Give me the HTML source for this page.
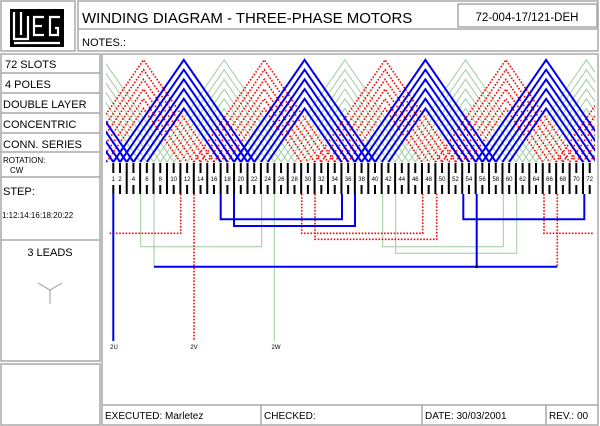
<!DOCTYPE html>
<html><head><meta charset="utf-8"><style>
html,body{margin:0;padding:0;background:#fff}
svg{display:block}
text{font-family:"Liberation Sans",Arial,sans-serif;fill:#000}
</style></head><body>
<svg width="600" height="426" viewBox="0 0 600 426" xmlns="http://www.w3.org/2000/svg">
<defs>
<clipPath id="cp"><rect x="106" y="55" width="489" height="110"/></clipPath>
<g id="coil" fill="none">
<polyline points="-36.9,162 0,108.5 36.9,162"/>
<polyline points="-43.6,162 0,98.8 43.6,162"/>
<polyline points="-50.3,162 0,89.1 50.3,162"/>
<polyline points="-57,162 0,79.4 57,162"/>
<polyline points="-63.7,162 0,69.7 63.7,162"/>
<polyline points="-70.5,162 0,59.9 70.5,162"/>
</g>
</defs>
<g fill="none" stroke="#a8a8a8" stroke-width="1.5">
<rect x="1" y="1" width="74" height="50"/>
<rect x="78" y="1" width="520" height="50"/>
<line x1="78" y1="29" x2="598" y2="29"/>
<rect x="458" y="4" width="139" height="23"/>
<rect x="1" y="54" width="99" height="307"/>
<line x1="1" y1="73" x2="100" y2="73"/>
<line x1="1" y1="93" x2="100" y2="93"/>
<line x1="1" y1="113" x2="100" y2="113"/>
<line x1="1" y1="133" x2="100" y2="133"/>
<line x1="1" y1="152" x2="100" y2="152"/>
<line x1="1" y1="177" x2="100" y2="177"/>
<line x1="1" y1="240" x2="100" y2="240"/>
<rect x="1" y="364" width="99" height="61"/>
<rect x="102" y="54" width="496" height="371"/>
<line x1="102" y1="405" x2="598" y2="405"/>
<line x1="261" y1="405" x2="261" y2="425"/>
<line x1="422" y1="405" x2="422" y2="425"/>
<line x1="546" y1="405" x2="546" y2="425"/>
</g>
<!-- logo -->
<rect x="10" y="9" width="54" height="38" fill="#000"/>
<g fill="none" stroke="#fff" stroke-width="2.2">
<polyline points="14,12 14,39 28,39 28,16"/>
<line x1="21" y1="12" x2="21" y2="35"/>
<polyline points="44,17 34,17 34,35 44,35"/>
<line x1="34" y1="26" x2="42" y2="26"/>
<polyline points="60,17 50,17 50,35 58,35 58,28 55,28"/>
<line x1="14" y1="43" x2="60" y2="43"/>
</g>
<text x="82" y="23" font-size="15">WINDING DIAGRAM - THREE-PHASE MOTORS</text>
<text x="527" y="21" font-size="11.5" text-anchor="middle">72-004-17/121-DEH</text>
<text x="82" y="46" font-size="11">NOTES.:</text>
<g font-size="11">
<text x="5" y="68">72 SLOTS</text>
<text x="5" y="88">4 POLES</text>
<text x="3" y="108">DOUBLE LAYER</text>
<text x="3" y="128">CONCENTRIC</text>
<text x="3" y="148">CONN. SERIES</text>
<text x="3" y="195">STEP:</text>
<text x="50" y="256" text-anchor="middle">3 LEADS</text>
</g>
<text x="3" y="163" font-size="8">ROTATION:</text>
<text x="10" y="173" font-size="8">CW</text>
<text x="2" y="218" font-size="8">1:12:14:16:18:20:22</text>
<g stroke="#999" stroke-width="1" fill="none"><polyline points="38,283 50,290 62,283"/><line x1="50" y1="290" x2="50" y2="304"/></g>
<g font-size="10">
<text x="105" y="419">EXECUTED: Marletez</text>
<text x="264" y="419">CHECKED:</text>
<text x="425" y="419">DATE: 30/03/2001</text>
<text x="549" y="419">REV.: 00</text>
</g>
<!-- coils -->
<g clip-path="url(#cp)">
<g stroke="#9fcb9f" stroke-width="1">
<use href="#coil" x="103.3"/><use href="#coil" x="224.1"/><use href="#coil" x="344.9"/><use href="#coil" x="465.6"/><use href="#coil" x="586.4"/>
</g>
<g stroke="#f00" stroke-width="1.6" stroke-dasharray="1.6 1.6">
<use href="#coil" x="22.8"/><use href="#coil" x="143.5"/><use href="#coil" x="264.3"/><use href="#coil" x="385.1"/><use href="#coil" x="505.9"/><use href="#coil" x="626.7"/>
</g>
<g stroke="#0000ee" stroke-width="2">
<use href="#coil" x="63"/><use href="#coil" x="183.8"/><use href="#coil" x="304.6"/><use href="#coil" x="425.4"/><use href="#coil" x="546.1"/><use href="#coil" x="666.9"/>
</g>
</g>
<!-- slot bars -->
<line x1="112.3" y1="178.5" x2="591" y2="178.5" stroke="#000" stroke-width="31" stroke-dasharray="2 4.71"/>
<rect x="106" y="173" width="489" height="12" fill="#fff"/>
<line x1="125.7" y1="179" x2="591" y2="179" stroke="#000" stroke-width="12" stroke-dasharray="2 11.42"/>
<g font-size="6" text-anchor="middle">
<text x="113.3" y="181">1</text><text x="120" y="181">2</text><text x="133.4" y="181">4</text><text x="146.9" y="181">6</text><text x="160.3" y="181">8</text><text x="173.7" y="181">10</text><text x="187.1" y="181">12</text><text x="200.5" y="181">14</text><text x="214" y="181">16</text><text x="227.4" y="181">18</text><text x="240.8" y="181">20</text><text x="254.2" y="181">22</text><text x="267.6" y="181">24</text><text x="281.1" y="181">26</text><text x="294.5" y="181">28</text><text x="307.9" y="181">30</text><text x="321.3" y="181">32</text><text x="334.7" y="181">34</text><text x="348.2" y="181">36</text><text x="361.6" y="181">38</text><text x="375" y="181">40</text><text x="388.4" y="181">42</text><text x="401.8" y="181">44</text><text x="415.3" y="181">46</text><text x="428.7" y="181">48</text><text x="442.1" y="181">50</text><text x="455.5" y="181">52</text><text x="468.9" y="181">54</text><text x="482.4" y="181">56</text><text x="495.8" y="181">58</text><text x="509.2" y="181">60</text><text x="522.6" y="181">62</text><text x="536" y="181">64</text><text x="549.5" y="181">66</text><text x="562.9" y="181">68</text><text x="576.3" y="181">70</text><text x="589.7" y="181">72</text>
</g>
<!-- leads -->
<g fill="none" stroke="#9fcb9f" stroke-width="1">
<polyline points="140.7,194 140.7,246.7 261.7,246.7 261.7,194"/>
<polyline points="154,194 154,266.7"/>
<polyline points="274.3,194 274.3,341"/>
<polyline points="382.7,194 382.7,246.7 503.3,246.7 503.3,194"/>
<polyline points="395.7,194 395.7,253.3 516.7,253.3 516.7,194"/>
</g>
<g fill="none" stroke="#f00" stroke-width="1.6" stroke-dasharray="1.6 1.6">
<polyline points="180.7,194 180.7,233.3 108,233.3"/>
<polyline points="194,194 194,341"/>
<polyline points="301.7,194 301.7,233.3 422.7,233.3 422.7,194"/>
<polyline points="315,194 315,239.3 436.7,239.3 436.7,194"/>
<polyline points="544,194 544,233.3 594,233.3"/>
<polyline points="557.3,194 557.3,266.7"/>
</g>
<g fill="none" stroke="#0000ee" stroke-width="2">
<polyline points="113.3,194 113.3,341"/>
<polyline points="220.7,194 220.7,219.3 342,219.3 342,194"/>
<polyline points="234,194 234,226 355,226 355,194"/>
<polyline points="463.3,194 463.3,219.3 584.3,219.3 584.3,194"/>
<polyline points="476.7,194 476.7,266.7"/>
<polyline points="154,266.7 557.3,266.7"/>
</g>
<circle cx="476.7" cy="266.7" r="1.5" fill="#000"/>
<g font-size="6" text-anchor="middle">
<text x="114" y="349">2U</text><text x="194" y="349">2V</text><text x="276" y="349">2W</text>
</g>
</svg>
</body></html>
